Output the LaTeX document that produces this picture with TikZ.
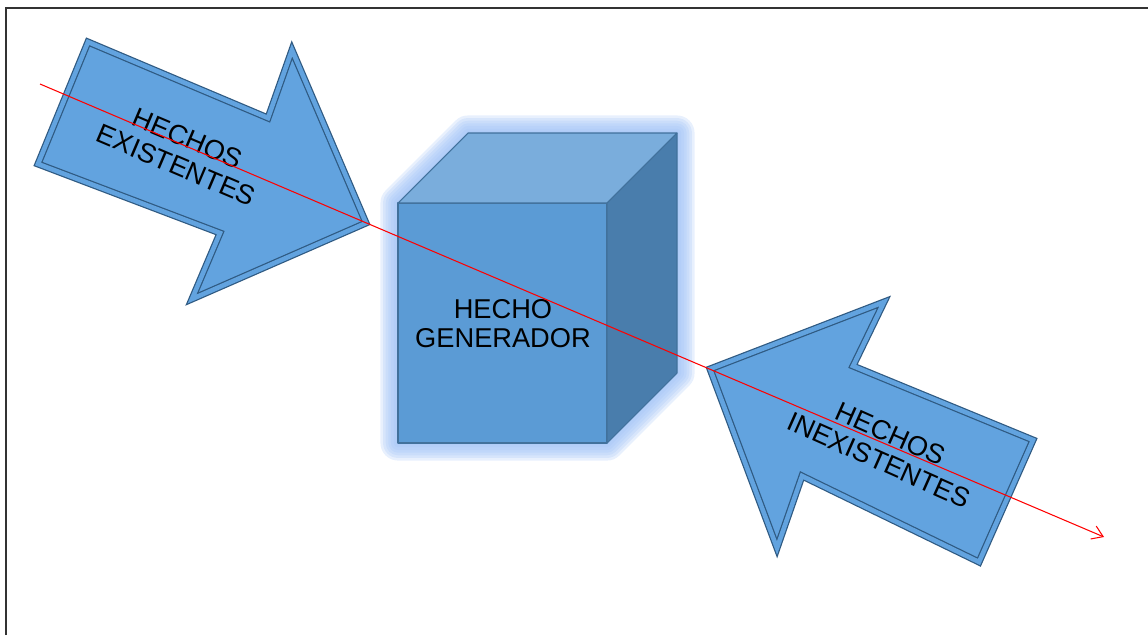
\documentclass[tikz,border=0pt]{standalone}
\usepackage{fontspec}
\setmainfont{Liberation Sans}
\usepackage{xcolor}
\usetikzlibrary{arrows.meta}

\definecolor{arrowblue}{HTML}{62A3DF}
\definecolor{arrowedge}{HTML}{2F5A82}
\definecolor{cubefront}{HTML}{5B9BD5}
\definecolor{cubetop}{HTML}{7AADDC}
\definecolor{cubeside}{HTML}{497DAC}
\definecolor{cubeedge}{HTML}{41719C}
\definecolor{glowblue}{HTML}{A3C4F7}
\definecolor{framegray}{HTML}{333333}

\begin{document}
\begin{tikzpicture}[
    x=0.02cm, y=-0.02cm,
    every node/.style={align=center, inner sep=0pt, font=\fontsize{15.5}{16.5}\selectfont},
    bigarrow/.style={fill=arrowblue, draw=arrowedge, double=arrowblue, double distance=2.6pt, line width=0.7pt},
    cubeface/.style={draw=cubeedge, line width=0.6pt, line join=round},
    glow/.style={draw=glowblue, line join=round, opacity=0.25},
    redline/.style={draw=red, line width=0.6pt, -{Straight Barb[length=6pt,width=8pt]}}
]
\useasboundingbox (0,0) rectangle (1148,635);
\draw[framegray, line width=1.2pt] (6,635) -- (6,8) -- (1148,8);

% left and right block arrows
\draw[bigarrow] (88,42) -- (268,118) -- (292,50) -- (366,223) -- (192,299) -- (220,233) -- (38,164) -- cycle;
\draw[bigarrow] (710,369) -- (884,302) -- (853,366) -- (1033,440) -- (979,562) -- (802,476) -- (777,548) -- cycle;

% glow behind the cube
\fill[glowblue, opacity=0.25] (398,203) -- (468,133) -- (677,133) -- (677,373) -- (607,443) -- (398,443) -- cycle;
\foreach \w in {20,17,14,11,8,5,2}
    \draw[glow, line width=\w pt] (398,203) -- (468,133) -- (677,133) -- (677,373) -- (607,443) -- (398,443) -- cycle;

% cube
\draw[cubeface, fill=cubefront] (398,203) rectangle (607,443);
\draw[cubeface, fill=cubetop] (398,203) -- (468,133) -- (677,133) -- (607,203) -- cycle;
\draw[cubeface, fill=cubeside] (607,203) -- (677,133) -- (677,373) -- (607,443) -- cycle;

\node (generador) at (503,324) {HECHO\\GENERADOR};
\node[rotate=-23] (existentes) at (182,152) {HECHOS\\EXISTENTES};
\node[rotate=-24] (inexistentes) at (885,447) {HECHOS\\INEXISTENTES};

\coordinate (lineStart) at (40,84);
\coordinate (lineEnd) at (1104,537);
\draw[redline] (lineStart) -- (lineEnd);
\end{tikzpicture}
\end{document}
